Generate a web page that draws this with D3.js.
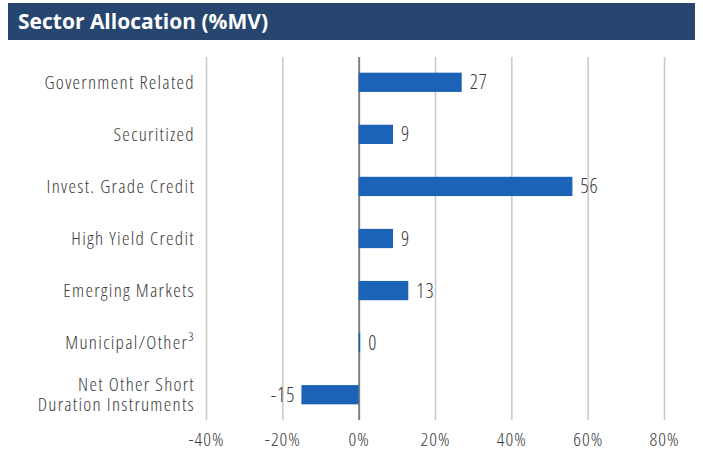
<!DOCTYPE html>
<html>
<head>
<meta charset="utf-8">
<script src="https://cdn.jsdelivr.net/npm/d3@7"></script>
<style>
	body { margin: 0; background: #fff; }
	svg text { font-family: 'Open Sans', sans-serif; font-stretch: 75%; font-weight: 300; }
	.title { font-weight: 700; fill: #fff; font-size: 21px; font-stretch: 100%; letter-spacing: 0; }
	.cat, .tick text, .val { fill: #3a3a3a; }
</style>
</head>
<body>
<div id="chart"></div>
<script>
var categories = ['Government Related', 'Securitized', 'Invest. Grade Credit', 'High Yield Credit',
	'Emerging Markets', 'Municipal/Other\u00b3', 'Net Other Short|Duration Instruments'];
var values = [27, 9, 56, 9, 13, 0.4, -15];
var tickValues = [-40, -20, 0, 20, 40, 60, 80];

var width = 703, height = 452;
var margin = { top: 56, right: 39, bottom: 31, left: 206 };

var svg = d3.select('#chart').append('svg')
	.attr('width', width)
	.attr('height', height);

// header band
svg.append('rect')
	.attr('x', 8).attr('y', 3)
	.attr('width', 687).attr('height', 37)
	.attr('fill', '#26466f');
svg.append('text')
	.attr('class', 'title')
	.attr('x', 18).attr('y', 29)
	.text('Sector Allocation (%MV)');

var x = d3.scaleLinear()
	.domain([-40, 80])
	.range([margin.left, width - margin.right]);

var y = d3.scaleBand()
	.domain(categories)
	.range([margin.top, height - margin.bottom])
	.paddingInner(0.63)
	.paddingOuter(0.32);

// grid
var xAxis = d3.axisBottom(x)
	.tickValues(tickValues)
	.tickSize(-(y.range()[1] - y.range()[0] - 2))
	.tickPadding(13)
	.tickFormat(function(d) { return d + '%'; });

var gx = svg.append('g')
	.attr('transform', 'translate(0,' + (y.range()[1] - 1) + ')')
	.call(xAxis);
gx.select('.domain').remove();
gx.selectAll('.tick line')
	.attr('stroke', function(d) { return d === 0 ? '#7f7f7f' : '#c8c8c8'; })
	.attr('stroke-width', function(d) { return d === 0 ? 2 : 1.5; });
gx.selectAll('.tick text').style('font-size', '19px').style('letter-spacing', '1px');

// bars
svg.selectAll('.bar')
	.data(values)
	.enter().append('rect')
	.attr('class', 'bar')
	.attr('x', function(d) { return x(Math.min(0, d)); })
	.attr('y', function(d, i) { return y(categories[i]); })
	.attr('width', function(d) { return Math.abs(x(d) - x(0)); })
	.attr('height', y.bandwidth())
	.attr('fill', '#1c63b7');

// value labels
svg.selectAll('.val')
	.data(values)
	.enter().append('text')
	.attr('class', 'val')
	.attr('x', function(d) { return d < 0 ? x(d) - 6 : x(d) + 8; })
	.attr('y', function(d, i) { return y(categories[i]) + y.bandwidth() / 2; })
	.attr('dy', '0.35em')
	.style('font-size', '20px')
	.style('letter-spacing', '1px')
	.style('text-anchor', function(d) { return d < 0 ? 'end' : 'start'; })
	.text(function(d) { return Math.round(d); });

// category labels, two-line label split on '|'
var cat = svg.selectAll('.cat')
	.data(categories)
	.enter().append('text')
	.attr('class', 'cat')
	.attr('x', 195)
	.attr('y', function(d) { return y(d) + y.bandwidth() / 2; })
	.style('font-size', '19px')
	.style('letter-spacing', '1.3px')
	.style('text-anchor', 'end');

cat.each(function(d) {
	var lines = d.split('|');
	var t = d3.select(this);
	lines.forEach(function(l, i) {
		t.append('tspan')
			.attr('x', 195)
			.attr('dy', i === 0 ? (0.35 - (lines.length - 1) * 0.53) + 'em' : '1.06em')
			.text(l);
	});
});
</script>
</body>
</html>
